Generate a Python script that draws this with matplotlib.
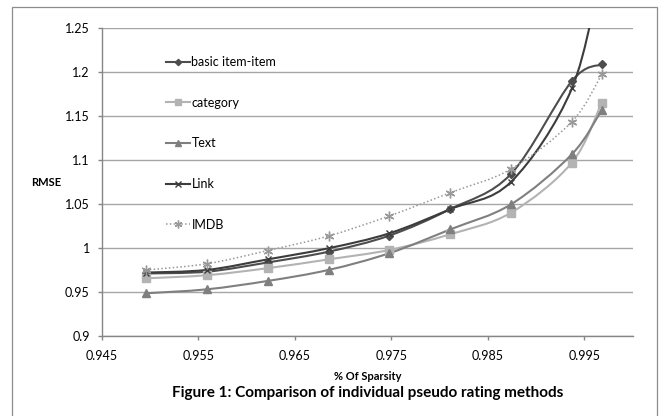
import numpy as np
import matplotlib
matplotlib.use('Agg')
import matplotlib.pyplot as plt
from matplotlib.path import Path
from matplotlib.patches import PathPatch, Rectangle
from matplotlib.lines import Line2D

plt.rcParams['font.family'] = ['Lato', 'DejaVu Sans']

# ---- data ----
sparsity = [0.9496, 0.9559, 0.9622, 0.9685, 0.9748, 0.9811, 0.9874, 0.9937, 0.9968]
basic = [0.971, 0.973, 0.9835, 0.9957, 1.014, 1.044, 1.084, 1.1895, 1.2085]
category = [0.9655, 0.969, 0.977, 0.987, 0.9977, 1.0155, 1.040, 1.0968, 1.165]
text_m = [0.9485, 0.953, 0.9625, 0.975, 0.994, 1.021, 1.0495, 1.1063, 1.1566]
link = [0.972, 0.975, 0.987, 0.9996, 1.0166, 1.044, 1.075, 1.181, 1.32]
imdb = [0.975, 0.982, 0.997, 1.0135, 1.0363, 1.0627, 1.0896, 1.1433, 1.197]

series_names = ["basic item-item", "category", "Text", "Link", "IMDB"]
x_ticks = [0.945, 0.955, 0.965, 0.975, 0.985, 0.995]
y_ticks = [0.9, 0.95, 1.0, 1.05, 1.1, 1.15, 1.2, 1.25]
y_tick_labels = ["0.9", "0.95", "1", "1.05", "1.1", "1.15", "1.2", "1.25"]

W, H = 668, 416
fig = plt.figure(figsize=(W / 100, H / 100), dpi=100)
fig.patch.set_facecolor('white')

L, R, T, B = 101.6, 632.7, 27.7, 336.0
ax = fig.add_axes([L / W, 1 - B / H, (R - L) / W, (B - T) / H])
ax.set_xlim(0.945, 1.0)
ax.set_ylim(0.9, 1.25)


def smooth_path(xs, ys):
    pts = np.column_stack([xs, ys]).astype(float)
    n = len(pts)
    verts = [pts[0]]
    codes = [Path.MOVETO]
    for i in range(n - 1):
        p0 = pts[i - 1] if i > 0 else pts[i]
        p1 = pts[i]
        p2 = pts[i + 1]
        p3 = pts[i + 2] if i + 2 < n else pts[i + 1]
        c1 = p1 + (p2 - p0) / 6.0
        c2 = p2 - (p3 - p1) / 6.0
        verts += [c1, c2, p2]
        codes += [Path.CURVE4] * 3
    return Path(verts, codes)


styles = [
    dict(color='#4d4d4d', marker='D', ms=4, ls='-', mfc='#4d4d4d'),
    dict(color='#b3b3b3', marker='s', ms=5.5, ls='-', mfc='#b3b3b3'),
    dict(color='#7f7f7f', marker='^', ms=5.5, ls='-', mfc='#7f7f7f'),
    dict(color='#3c3c3c', marker='x', ms=5, ls='-', mfc='#3c3c3c'),
    dict(color='#999999', marker=(6, 2, 0), ms=7, ls=(0, (1, 1.5)), mfc='#999999'),
]
all_series = [basic, category, text_m, link, imdb]

for i, (vals, st) in enumerate(zip(all_series, styles)):
    lw = 1.1 if i == 4 else 1.5
    patch = PathPatch(smooth_path(sparsity, vals), fill=False, edgecolor=st['color'],
                      lw=lw, linestyle=st['ls'], zorder=3 + i * 0.1)
    ax.add_patch(patch)
    patch.set_clip_path(ax.patch)
    ax.plot(sparsity, vals, linestyle='none', marker=st['marker'], ms=st['ms'],
            color=st['color'], mfc=st['mfc'], mec=st['color'], mew=1.0,
            zorder=4 + i * 0.1, clip_on=True)

handles = []
for i, st in enumerate(styles):
    lw = 1.1 if i == 4 else 1.5
    handles.append(Line2D([], [], color=st['color'], lw=lw, ls=st['ls'], marker=st['marker'],
                          ms=st['ms'] * 0.8, mfc=st['mfc'], mec=st['color'], mew=1.0))
ax.legend(handles, series_names, loc='upper left', bbox_to_anchor=(0.122, 0.908),
          frameon=False, fontsize=9, handlelength=1.85, handletextpad=0.15,
          labelspacing=2.29, borderpad=0, borderaxespad=0, markerfirst=True,
          numpoints=1)

# grid & axes
ax.set_yticks(y_ticks)
ax.set_yticklabels(y_tick_labels)
ax.set_xticks(x_ticks)
ax.set_xticklabels([f"{v:.3f}" for v in x_ticks])
ax.yaxis.grid(True, color='#a6a6a6', lw=1.0)
ax.set_axisbelow(True)
for s in ['top', 'right']:
    ax.spines[s].set_visible(False)
for s in ['left', 'bottom']:
    ax.spines[s].set_color('#868686')
    ax.spines[s].set_linewidth(1.0)
ax.tick_params(axis='both', colors='#868686', labelcolor='black', labelsize=9,
               length=3, width=1.0, direction='out')
ax.tick_params(axis='y', pad=5.5)
ax.tick_params(axis='x', pad=7.0)

# texts
fig.text(367.3 / W, 1 - 376.7 / H, "% Of Sparsity", ha='center', va='center',
         fontsize=8, fontweight='bold')
fig.text(46 / W, 1 - 183 / H, "RMSE", ha='center', va='center',
         fontsize=8, fontweight='bold')
fig.text(367.5 / W, 1 - 393 / H, "Figure 1: Comparison of individual pseudo rating methods",
         ha='center', va='center', fontsize=11, fontweight='bold')

# outer border
fig.patches.append(Rectangle((11.7 / W, -0.2), (657.3 - 11.7) / W, 1 - 6.7 / H + 0.2,
                             transform=fig.transFigure, fill=False,
                             edgecolor='#8c8c8c', lw=0.9))

fig.savefig('out.png', dpi=100)
